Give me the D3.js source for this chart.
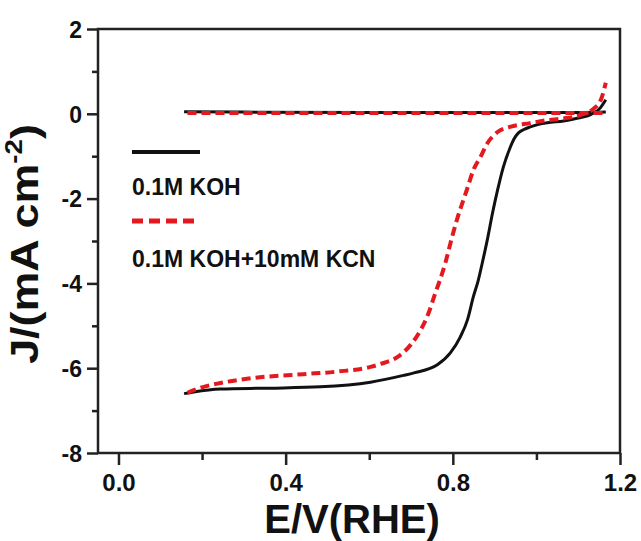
<!DOCTYPE html>
<html>
<head>
<meta charset="utf-8">
<script src="https://cdn.jsdelivr.net/npm/d3@7"></script>
<style>
  html, body { margin: 0; padding: 0; background: #fff; }
  svg { display: block; }
  text { font-family: "Liberation Sans", Arial, sans-serif; font-weight: bold; fill: #111; }
</style>
</head>
<body>
<svg id="chart" width="641" height="541"></svg>
<script>
// ---- data ----
const xTicks = [0.0, 0.4, 0.8, 1.2];
const xMinorTicks = [0.2, 0.6, 1.0];
const yTicks = [2, 0, -2, -4, -6, -8];
const yMinorTicks = [1, -1, -3, -5, -7];

const seriesNames = ["0.1M KOH", "0.1M KOH+10mM KCN"];

// 0.1M KOH, ORR sweep [E, J]
const kohE = [0.157, 0.18, 0.244, 0.363, 0.483, 0.603, 0.682, 0.707, 0.763, 0.794, 0.818, 0.835, 0.849, 0.861, 0.872, 0.883, 0.895, 0.907, 0.921, 0.937, 0.946, 0.957, 0.970, 0.985, 1.005, 1.026, 1.065, 1.10, 1.13, 1.153, 1.166];
const kohJ = [-6.60, -6.56, -6.49, -6.47, -6.44, -6.33, -6.17, -6.11, -5.92, -5.64, -5.26, -4.86, -4.32, -3.92, -3.45, -2.95, -2.34, -1.80, -1.25, -0.80, -0.60, -0.45, -0.37, -0.31, -0.25, -0.21, -0.17, -0.10, -0.02, 0.14, 0.33];
// 0.1M KOH, background line
const kohBgE = [0.157, 0.30, 0.60, 0.90, 1.10, 1.166];
const kohBgJ = [0.05, 0.04, 0.03, 0.03, 0.03, 0.04];

// 0.1M KOH+10mM KCN, ORR sweep
const kcnE = [0.165, 0.20, 0.244, 0.324, 0.443, 0.523, 0.603, 0.627, 0.667, 0.699, 0.723, 0.742, 0.758, 0.770, 0.782, 0.797, 0.811, 0.823, 0.835, 0.849, 0.866, 0.883, 0.907, 0.937, 0.985, 1.026, 1.065, 1.105, 1.137, 1.155, 1.166];
const kcnJ = [-6.58, -6.45, -6.35, -6.23, -6.14, -6.08, -5.97, -5.90, -5.74, -5.45, -5.10, -4.70, -4.23, -3.90, -3.52, -2.95, -2.46, -2.10, -1.75, -1.33, -1.02, -0.69, -0.43, -0.31, -0.22, -0.15, -0.11, -0.03, 0.12, 0.35, 0.73];
// 0.1M KOH+10mM KCN, background line
const kcnBgE = [0.165, 0.40, 0.70, 1.00, 1.17];
const kcnBgJ = [0.02, 0.02, 0.02, 0.02, 0.02];

// ---- layout ----
const svg = d3.select("#chart");
const L = 98, T = 29, R = 620, B = 453;

const x = d3.scaleLinear().domain([-0.049, 1.2]).range([L, R]);
const y = d3.scaleLinear().domain([-8, 2]).range([B, T]);

const zip = (a, b) => a.map((v, i) => [v, b[i]]);
const line = d3.line().x(d => x(d[0])).y(d => y(d[1])).curve(d3.curveMonotoneX);

// curves
const g = svg.append("g");
g.append("path").datum(zip(kohBgE, kohBgJ)).attr("d", line)
  .attr("fill", "none").attr("stroke", "#111").attr("stroke-width", 3);
g.append("path").datum(zip(kohE, kohJ)).attr("d", line)
  .attr("fill", "none").attr("stroke", "#111").attr("stroke-width", 3);
g.append("path").datum(zip(kcnBgE, kcnBgJ)).attr("d", line)
  .attr("fill", "none").attr("stroke", "#e3191f").attr("stroke-width", 4).attr("stroke-dasharray", "9,5");
g.append("path").datum(zip(kcnE, kcnJ)).attr("d", line)
  .attr("fill", "none").attr("stroke", "#e3191f").attr("stroke-width", 4).attr("stroke-dasharray", "9,5");

// frame
svg.append("rect").attr("x", L).attr("y", T).attr("width", R - L).attr("height", B - T)
  .attr("fill", "none").attr("stroke", "#222").attr("stroke-width", 2.5);

// axes
const xAxis = svg.append("g").attr("transform", `translate(0,${B})`)
  .call(d3.axisBottom(x).tickValues(xTicks).tickFormat(d => d.toFixed(1)).tickSize(12).tickPadding(9));
const xMinor = svg.append("g").attr("transform", `translate(0,${B})`)
  .call(d3.axisBottom(x).tickValues(xMinorTicks).tickFormat("").tickSize(7));
const yAxis = svg.append("g").attr("transform", `translate(${L},0)`)
  .call(d3.axisLeft(y).tickValues(yTicks).tickFormat(d => String(d)).tickSize(11).tickPadding(5));
const yMinor = svg.append("g").attr("transform", `translate(${L},0)`)
  .call(d3.axisLeft(y).tickValues(yMinorTicks).tickFormat("").tickSize(6));

[xAxis, xMinor, yAxis, yMinor].forEach(a => {
  a.select(".domain").remove();
  a.selectAll(".tick line").attr("stroke", "#222").attr("stroke-width", 2.5);
});
xAxis.selectAll("text").attr("font-size", 24).style("font-family", "'Liberation Sans', Arial, sans-serif").style("font-weight", "bold").attr("fill", "#111");
yAxis.selectAll("text").attr("font-size", 23).style("font-family", "'Liberation Sans', Arial, sans-serif").style("font-weight", "bold").attr("fill", "#111").attr("dy", "0.36em");

// axis titles
svg.append("text").attr("x", 352).attr("y", 533).attr("text-anchor", "middle")
  .attr("font-size", 40).text("E/V(RHE)");

const yt = svg.append("text").attr("transform", "translate(38,244) rotate(-90) scale(1.15,1)")
  .attr("text-anchor", "middle").attr("font-size", 39);
yt.append("tspan").text("J/(mA cm");
yt.append("tspan").attr("font-size", 24).attr("dy", -16).text("-2");
yt.append("tspan").attr("dy", 16).text(")");

// legend
const lg = svg.append("g");
lg.append("line").attr("x1", 132).attr("x2", 200).attr("y1", 152).attr("y2", 152)
  .attr("stroke", "#111").attr("stroke-width", 4);
lg.append("text").attr("x", 132).attr("y", 195).attr("font-size", 23).text(seriesNames[0]);
lg.append("line").attr("x1", 132).attr("x2", 194).attr("y1", 221).attr("y2", 221)
  .attr("stroke", "#e3191f").attr("stroke-width", 5).attr("stroke-dasharray", "11,6");
lg.append("text").attr("x", 132).attr("y", 267).attr("font-size", 23).text(seriesNames[1]);
</script>
</body>
</html>
